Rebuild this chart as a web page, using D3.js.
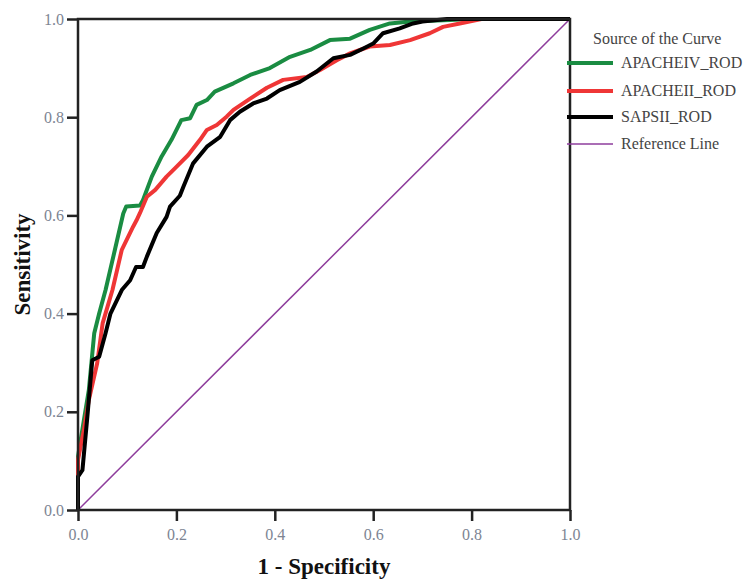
<!DOCTYPE html>
<html><head><meta charset="utf-8">
<script src="https://cdn.jsdelivr.net/npm/d3@7"></script>
<style>body{margin:0;background:#fff;} svg{display:block;}</style>
</head><body>
<svg id="c" width="751" height="581"></svg>
<script>
const seriesNames = ["APACHEIV_ROD", "APACHEII_ROD", "SAPSII_ROD", "Reference Line"];
const seriesColors = ["#1a8c42", "#ef3636", "#000000", "#8e3d9c"];
const xTicks = [0, 0.2, 0.4, 0.6, 0.8, 1.0];
const yTicks = [0, 0.2, 0.4, 0.6, 0.8, 1.0];

const apacheIV = [[0,0],[0,0.109],[0.012,0.183],[0.022,0.244],[0.033,0.36],[0.043,0.40],[0.056,0.448],[0.075,0.53],[0.092,0.604],[0.098,0.618],[0.126,0.62],[0.132,0.631],[0.15,0.679],[0.17,0.72],[0.19,0.754],[0.21,0.794],[0.228,0.798],[0.241,0.825],[0.262,0.835],[0.278,0.852],[0.316,0.869],[0.35,0.886],[0.39,0.9],[0.431,0.923],[0.472,0.937],[0.512,0.957],[0.553,0.96],[0.593,0.978],[0.634,0.991],[0.675,0.995],[0.756,0.998],[0.8,1],[1,1]];
const apacheII = [[0,0],[0,0.08],[0,0.102],[0.012,0.163],[0.022,0.224],[0.039,0.299],[0.05,0.38],[0.07,0.448],[0.089,0.53],[0.112,0.577],[0.119,0.59],[0.126,0.605],[0.14,0.638],[0.157,0.652],[0.18,0.679],[0.2,0.699],[0.224,0.723],[0.248,0.754],[0.262,0.774],[0.282,0.784],[0.302,0.801],[0.316,0.815],[0.35,0.838],[0.384,0.86],[0.417,0.876],[0.465,0.882],[0.492,0.896],[0.526,0.916],[0.553,0.93],[0.593,0.944],[0.634,0.947],[0.675,0.957],[0.715,0.971],[0.742,0.984],[0.776,0.991],[0.82,1],[1,1]];
const sapsII = [[0,0],[0,0.068],[0.009,0.081],[0.019,0.19],[0.029,0.305],[0.043,0.312],[0.056,0.36],[0.066,0.4],[0.089,0.448],[0.106,0.468],[0.118,0.495],[0.132,0.495],[0.14,0.516],[0.16,0.564],[0.18,0.597],[0.187,0.618],[0.207,0.64],[0.214,0.658],[0.234,0.706],[0.262,0.74],[0.289,0.76],[0.309,0.794],[0.329,0.811],[0.356,0.828],[0.384,0.838],[0.41,0.855],[0.451,0.872],[0.485,0.893],[0.519,0.92],[0.553,0.927],[0.58,0.94],[0.6,0.95],[0.62,0.971],[0.654,0.981],[0.681,0.991],[0.7,0.995],[0.75,1],[1,1]];
const referenceLine = [[0,0],[1,1]];

const svg = d3.select("#c");
const m = {left:78, top:19, right:181, bottom:71};
const W = 751 - m.left - m.right, H = 581 - m.top - m.bottom;
const x = d3.scaleLinear().domain([0,1]).range([m.left, m.left+W]);
const y = d3.scaleLinear().domain([0,1]).range([m.top+H, m.top]);

const line = d3.line().x(d=>x(d[0])).y(d=>y(d[1]));
const data = [apacheIV, apacheII, sapsII, referenceLine];
const widths = [4, 4, 4, 1.5];

const order = [3, 0, 1, 2];
order.forEach(i => {
  svg.append("path").datum(data[i]).attr("d", line)
    .attr("fill","none").attr("stroke", seriesColors[i])
    .attr("stroke-width", widths[i]).attr("stroke-linejoin","round");
});

svg.append("rect").attr("x", x(0)).attr("y", y(1)).attr("width", x(1)-x(0)).attr("height", y(0)-y(1))
  .attr("fill","none").attr("stroke","#222").attr("stroke-width",2.5);

const tickColor = "#7d8593";
const xAxis = d3.axisBottom(x).tickValues(xTicks).tickFormat(d3.format(".1f")).tickSize(11).tickPadding(8);
const gx = svg.append("g").attr("transform",`translate(0,${y(0)})`).call(xAxis);
gx.select(".domain").remove();
gx.selectAll(".tick line").attr("stroke","#222").attr("stroke-width",2.5);
gx.selectAll(".tick text").attr("fill",tickColor).attr("font-family","Liberation Serif").attr("font-size",16);

const yAxis = d3.axisLeft(y).tickValues(yTicks).tickFormat(d3.format(".1f")).tickSize(11).tickPadding(3);
const gy = svg.append("g").attr("transform",`translate(${x(0)},0)`).call(yAxis);
gy.select(".domain").remove();
gy.selectAll(".tick line").attr("stroke","#222").attr("stroke-width",2.5);
gy.selectAll(".tick text").attr("fill",tickColor).attr("font-family","Liberation Serif").attr("font-size",16);

svg.append("text").attr("x", (x(0)+x(1))/2).attr("y", 574).attr("text-anchor","middle")
  .attr("font-family","Liberation Serif").attr("font-weight","bold").attr("font-size",23).attr("fill","#111")
  .text("1 - Specificity");
svg.append("text").attr("transform",`translate(30,${(y(0)+y(1))/2}) rotate(-90)`).attr("text-anchor","middle")
  .attr("font-family","Liberation Serif").attr("font-weight","bold").attr("font-size",23).attr("fill","#111")
  .text("Sensitivity");

const lg = svg.append("g");
lg.append("text").attr("x",593).attr("y",44).attr("font-family","Liberation Serif").attr("font-size",16)
  .attr("fill","#444").text("Source of the Curve");
const ly = [63, 91, 117, 144];
seriesNames.forEach((n,i) => {
  lg.append("line").attr("x1",567).attr("x2",613).attr("y1",ly[i]).attr("y2",ly[i])
    .attr("stroke",seriesColors[i]).attr("stroke-width", i<3 ? 4 : 1.5);
  lg.append("text").attr("x",621).attr("y",ly[i]+5).attr("font-family","Liberation Serif").attr("font-size",16)
    .attr("fill","#444").text(n);
});
</script>
</body></html>
